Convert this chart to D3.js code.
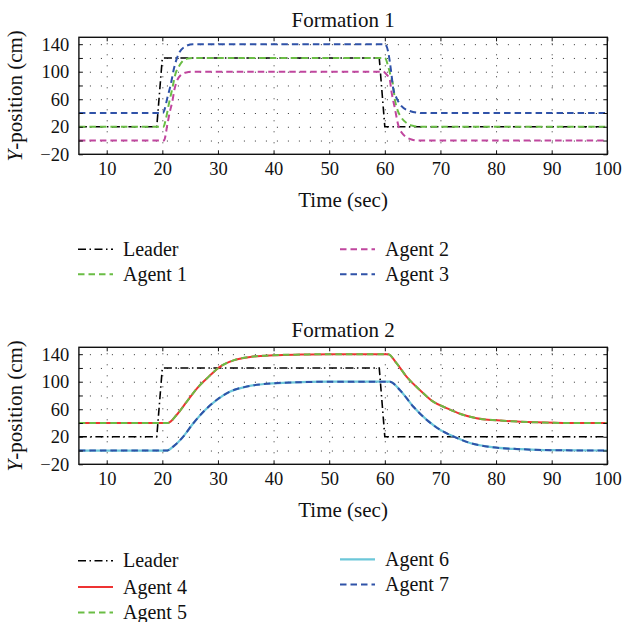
<!DOCTYPE html>
<html>
<head>
<meta charset="utf-8">
<script src="https://cdn.jsdelivr.net/npm/d3@7"></script>
<style>
  body { margin: 0; background: #fff; }
  text { font-family: "Liberation Serif", "Times New Roman", serif; fill: #111; }
  .tick text { font-size: 18.5px; }
  .axis path { display: none; }
  .axis line { stroke: #111; stroke-width: 1; }
  .grid line { stroke: #333; stroke-width: 1; stroke-dasharray: 1,10; }
  .grid path { display: none; }
</style>
</head>
<body>
<svg id="chart" width="623" height="622"></svg>
<script>
// time (sec), y-position (cm)
const leader1 = [[5,20],[19,20],[20,120],[59,120],[60,20],[100,20]];
const agent1 = [[5,20],[20.2,20],[20.6,30],[21.2,54],[21.8,76],[22.4,98],[23,108],[23.6,115],[24.5,119],[25.5,120],
                [60,120],[60.6,108],[61.1,92],[61.5,80],[61.8,60],[62.3,44],[63,33],[64,25],[65,21.5],[66.5,20],[100,20]];
const agent2 = [[5,0],[20.3,0],[20.9,23],[21.3,40],[21.8,57],[22.2,75],[22.7,88],[23.3,95],[24.3,99],[25.5,100],
                [59.7,100],[60.3,96],[60.9,88],[61.2,71],[61.8,47],[62.4,23],[63.3,9],[64.8,1.5],[66,0],[100,0]];
const agent3 = [[5,40],[20.1,40],[20.4,45],[20.9,62],[21.5,81],[22.1,105],[23,127],[24.2,137],[25.5,140],
                [60,140],[60.6,129],[61.2,96],[61.5,76],[62.1,62],[63,50],[64.5,43],[66.5,40],[100,40]];

const leader2 = [[5,20],[19,20],[20,120],[59,120],[60,20],[100,20]];
const agent4 = [[5,40],[21,40],[22.6,52],[24.4,71],[26.2,90],[28.3,107],[30.4,122],[32.8,131],[35.8,136],[40,138.5],[45,139.5],[50,140],
                [60.6,140],[62.1,127],[63.9,107.5],[66.3,88],[68.7,71],[71.1,61.7],[73.5,53.5],[76.5,47],[81.3,43.3],[87.3,41],[93.3,40],[100,40]];
const agent5 = [[5,40],[21,40],[22.6,52],[24.4,71],[26.2,90],[28.3,107],[30.4,122],[32.8,131],[35.8,136],[40,138.5],[45,139.5],[50,140],
                [60.6,140],[62.1,127],[63.9,107.5],[66.3,88],[68.7,71],[71.1,61.7],[73.5,53.5],[76.5,47],[81.3,43.3],[87.3,41],[93.3,40],[100,40]];
const agent6 = [[5,0],[20.8,0],[22,6],[23.8,20.6],[25.6,40],[27.7,59],[29.8,73.7],[32.2,85.7],[35.2,93],[38.8,97],[45,99.3],[50,100],
                [60.9,100],[62.7,88],[65.1,64],[67.5,44.8],[69.9,30.3],[72.3,20.6],[75.3,11],[78.9,5.3],[84.3,2],[90.3,0.5],[100,0]];
const agent7 = [[5,0],[20.8,0],[22,6],[23.8,20.6],[25.6,40],[27.7,59],[29.8,73.7],[32.2,85.7],[35.2,93],[38.8,97],[45,99.3],[50,100],
                [60.9,100],[62.7,88],[65.1,64],[67.5,44.8],[69.9,30.3],[72.3,20.6],[75.3,11],[78.9,5.3],[84.3,2],[90.3,0.5],[100,0]];

const xTicks = [10,20,30,40,50,60,70,80,90,100];
const yTicks = [-20,0,20,40,60,80,100,120,140];
const yLabels = [-20,20,60,100,140];

const styles = {
  leader: {color:"#000", width:1.6, dash:"8,3.5,1.5,3.5"},
  a1: {color:"#6abd45", width:2, dash:"6.5,4"},
  a2: {color:"#c0469e", width:2, dash:"6.5,4"},
  a3: {color:"#2f52a8", width:2, dash:"6.5,4"},
  a4: {color:"#ee3333", width:2, dash:null},
  a5: {color:"#6abd45", width:2, dash:"6.5,4"},
  a6: {color:"#6cc7d9", width:2.2, dash:null},
  a7: {color:"#2f52a8", width:2, dash:"6.5,4"}
};

const left = 78.9, right = 607.3, plotH = 117;
const width = right - left;

const svg = d3.select("#chart");

function drawPanel(top, title, series, legend){
  const g = svg.append("g").attr("transform","translate(" + left + "," + top + ")");

  const xscale = d3.scaleLinear().domain([5,100]).range([0,width]);
  const yscale = d3.scaleLinear().domain([-20,150]).range([plotH,0]);

  // dotted grid
  g.append("g").attr("class","grid")
    .attr("transform","translate(0," + plotH + ")")
    .call(d3.axisBottom(xscale).tickValues(xTicks.slice(0,-1)).tickSize(-plotH).tickFormat(""));
  g.append("g").attr("class","grid")
    .call(d3.axisLeft(yscale).tickValues(yTicks.slice(1)).tickSize(-width).tickFormat(""));

  // lines
  const clipId = "clip" + Math.round(top);
  g.append("clipPath").attr("id", clipId)
    .append("rect").attr("width", width).attr("height", plotH);

  series.forEach(function(s){
    const st = styles[s.key];
    const line = d3.line()
      .x(function(d){ return xscale(d[0]); })
      .y(function(d){ return yscale(d[1]); })
      .curve(s.key === "leader" ? d3.curveLinear : d3.curveMonotoneX);
    g.append("path")
      .datum(s.data)
      .attr("clip-path","url(#" + clipId + ")")
      .attr("fill","none")
      .attr("stroke", st.color)
      .attr("stroke-width", st.width)
      .attr("stroke-dasharray", st.dash)
      .attr("d", line);
  });

  // axes, ticks inward
  g.append("g").attr("class","axis")
    .attr("transform","translate(0," + plotH + ")")
    .call(d3.axisBottom(xscale).tickValues(xTicks).tickSize(-4).tickSizeOuter(0).tickPadding(7.8));
  g.append("g").attr("class","axis")
    .call(d3.axisTop(xscale).tickValues(xTicks).tickSize(-4).tickSizeOuter(0).tickFormat(""));
  g.append("g").attr("class","axis")
    .call(d3.axisLeft(yscale).tickValues(yTicks).tickSize(-4).tickSizeOuter(0).tickPadding(9.6)
      .tickFormat(function(d){ return yLabels.indexOf(d) >= 0 ? d3.format("")(d) : ""; }));
  g.append("g").attr("class","axis")
    .attr("transform","translate(" + width + ",0)")
    .call(d3.axisRight(yscale).tickValues(yTicks).tickSize(-4).tickSizeOuter(0).tickFormat(""));

  g.append("rect")
    .attr("width", width).attr("height", plotH)
    .attr("fill","none").attr("stroke","#111").attr("stroke-width",1.4);

  g.append("text")
    .attr("x", width/2).attr("y", -10.6)
    .attr("text-anchor","middle").attr("font-size","21px")
    .text(title);

  g.append("text")
    .attr("x", width/2).attr("y", plotH + 53.2)
    .attr("text-anchor","middle").attr("font-size","21px")
    .text("Time (sec)");

  const yl = g.append("text")
    .attr("transform","translate(" + (22 - left) + "," + (plotH/2) + ")rotate(-90)")
    .attr("text-anchor","middle").attr("font-size","21px");
  yl.append("tspan").attr("font-style","italic").text("Y");
  yl.append("tspan").text("-position (cm)");

  // legend
  legend.forEach(function(item){
    const st = styles[item.key];
    svg.append("line")
      .attr("x1", item.x).attr("x2", item.x + 35)
      .attr("y1", item.y).attr("y2", item.y)
      .attr("stroke", st.color)
      .attr("stroke-width", st.width)
      .attr("stroke-dasharray", st.dash);
    svg.append("text")
      .attr("x", item.x + 45).attr("y", item.y + 6.5)
      .attr("font-size","20px")
      .text(item.label);
  });
}

drawPanel(37.3, "Formation 1",
  [{key:"leader", data:leader1},{key:"a1", data:agent1},{key:"a2", data:agent2},{key:"a3", data:agent3}],
  [{key:"leader", label:"Leader", x:78, y:249.3},
   {key:"a1", label:"Agent 1", x:78, y:274.3},
   {key:"a2", label:"Agent 2", x:340, y:249.3},
   {key:"a3", label:"Agent 3", x:340, y:274.3}]);

drawPanel(347.3, "Formation 2",
  [{key:"leader", data:leader2},{key:"a4", data:agent4},{key:"a5", data:agent5},{key:"a6", data:agent6},{key:"a7", data:agent7}],
  [{key:"leader", label:"Leader", x:78, y:560.7},
   {key:"a4", label:"Agent 4", x:78, y:587},
   {key:"a5", label:"Agent 5", x:78, y:612.5},
   {key:"a6", label:"Agent 6", x:340, y:559.3},
   {key:"a7", label:"Agent 7", x:340, y:584.5}]);
</script>
</body>
</html>
